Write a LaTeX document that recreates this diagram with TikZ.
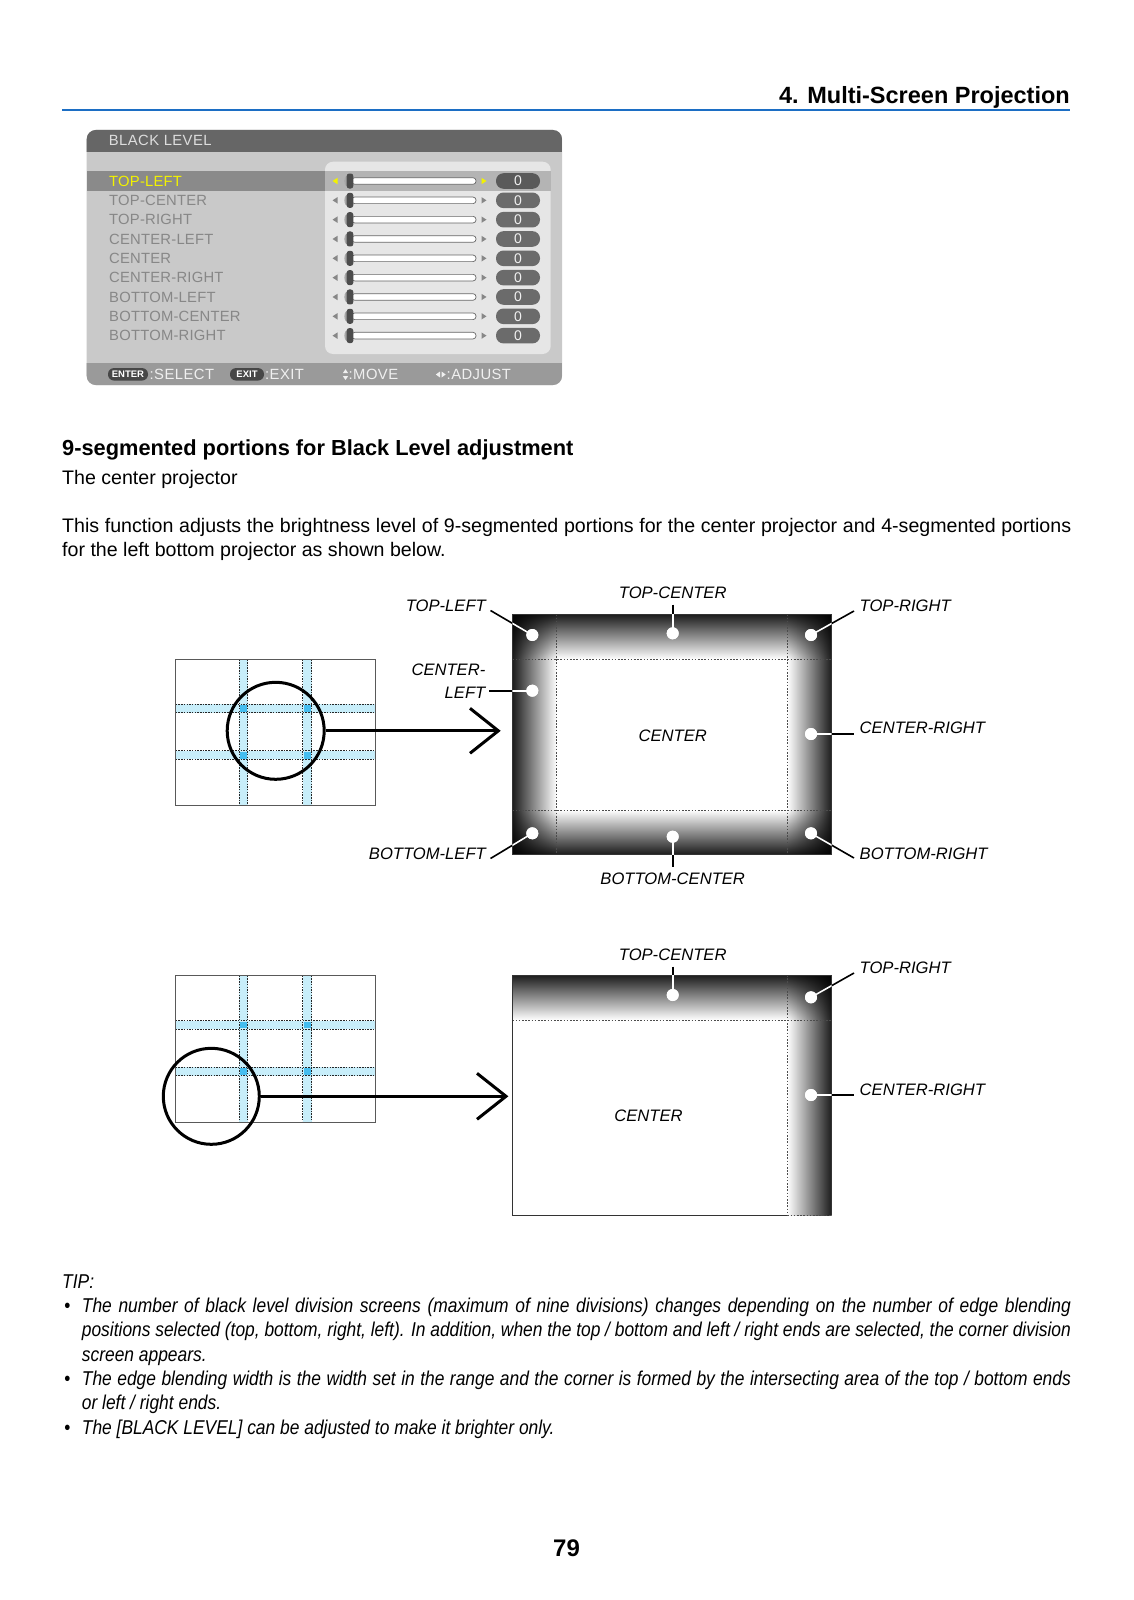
\documentclass[tikz,border=0pt]{standalone}
\usepackage{fontspec}
\usepackage{graphicx}
\setmainfont{Liberation Sans}
\usetikzlibrary{calc}

\definecolor{hdrblue}{RGB}{28,110,196}
\definecolor{osdbody}{HTML}{C9C9C9}
\definecolor{osdbar}{HTML}{666666}
\definecolor{osdfoot}{HTML}{9A9A9A}
\definecolor{osdinner}{HTML}{E6E6E6}
\definecolor{osdsel}{HTML}{8A8A8A}
\definecolor{osdselin}{HTML}{B4B4B4}
\definecolor{osdtxt}{HTML}{878787}
\definecolor{osdyel}{HTML}{F2F200}
\definecolor{osdtitletxt}{HTML}{DDDDDD}
\definecolor{osdfoottxt}{HTML}{F0F0F0}
\definecolor{pillc}{HTML}{6B6B6B}
\definecolor{pillsel}{HTML}{5A5A5A}
\definecolor{bandblue}{HTML}{C8EEFA}
\definecolor{dotblue}{HTML}{45BDEF}
\definecolor{edgedark}{HTML}{1C1C1C}

\newcommand{\myfs}[2]{\fontsize{#1}{#2}\selectfont}

\newcommand{\gridpanel}[1]{%
  \fill[white] (175.7,#1) rectangle (375,#1+146.4);
  \fill[bandblue] (239,#1) rectangle (247.7,#1+146.4);
  \fill[bandblue] (302.7,#1) rectangle (311.5,#1+146.4);
  \fill[bandblue] (175.7,#1+45) rectangle (375,#1+53.5);
  \fill[bandblue] (175.7,#1+91.5) rectangle (375,#1+100);
  \foreach \gx in {239,302.7}{\foreach \gy in {45,91.5}{%
    \fill[dotblue] (\gx+0.8,#1+\gy+0.8) rectangle (\gx+7.9,#1+\gy+7.7);}}
  \foreach \gx in {239,247.7,302.7,311.5}{\draw[griddot] (\gx,#1) -- (\gx,#1+146.4);}
  \foreach \gy in {45,53.5,91.5,100}{\draw[griddot] (175.7,#1+\gy) -- (375,#1+\gy);}
  \draw[gridline] (175.7,#1) rectangle (375,#1+146.4);
}

\tikzset{
  lbl/.style={inner sep=0, font=\myfs{16.6}{20}\itshape},
  leader/.style={line width=1.6},
  spot/.style={circle, fill=white, inner sep=0, minimum size=12},
  gridline/.style={draw=black!65, line width=0.9},
  griddot/.style={black!85, line width=0.8, dash pattern=on 1.5 off 1.2},
  scrdot/.style={black!70, line width=0.9, dash pattern=on 1.6 off 1.6},
  scrline/.style={draw=black!80, line width=1},
  bigarrow/.style={line width=3},
  osdrow/.style={inner sep=0, anchor=west, font=\myfs{14.8}{16}\addfontfeature{LetterSpace=1.5}},
  foottxt/.style={inner sep=0, anchor=west, text=osdfoottxt, font=\myfs{14.8}{16}\addfontfeature{LetterSpace=3}},
  keypill/.style={fill=black!72, text=white, font=\myfs{9.5}{10}\bfseries, rounded corners=6, minimum height=12.5, inner xsep=3, inner ysep=0},
}

\begin{document}
\begin{tikzpicture}[x=1pt,y=-1pt]
\useasboundingbox[fill=white] (0,0) rectangle (1134,1600);

% ---------- header ----------
\node[anchor=base east, inner sep=0, font=\myfs{23.5}{28}\bfseries] (hdr) at (1070,104) {4. Multi-Screen Projection};
\coordinate (ruleL) at (62,110.2);
\coordinate (ruleR) at (1070,110.2);
\draw[hdrblue, line width=2.5] (ruleL) -- (ruleR);

% ---------- OSD menu ----------
\path[fill=osdbody, rounded corners=9] (86.7,130) rectangle (562,385);
\begin{scope}
  \clip[rounded corners=9] (86.7,130) rectangle (562,385);
  \fill[osdbar] (86,129) rectangle (563,152);
  \fill[osdfoot] (86,363) rectangle (563,386);
\end{scope}
\node[inner sep=0, anchor=west, text=osdtitletxt, font=\myfs{14.8}{16}\addfontfeature{LetterSpace=3}] (osdtitle) at (108.7,140.5) {BLACK LEVEL};
\path[fill=osdinner, rounded corners=8] (325,161.7) rectangle (550.7,354);
\fill[osdsel] (86.7,171) rectangle (325,190.5);
\fill[osdselin] (325,171) rectangle (550.7,190.5);

\foreach \lab [count=\k from 0] in {TOP-LEFT,TOP-CENTER,TOP-RIGHT,CENTER-LEFT,CENTER,CENTER-RIGHT,BOTTOM-LEFT,BOTTOM-CENTER,BOTTOM-RIGHT}{
  \pgfmathsetmacro{\yy}{181+19.33*\k}
  \ifnum\k=0 \colorlet{rtx}{osdyel}\colorlet{rpl}{pillsel}\else\colorlet{rtx}{osdtxt}\colorlet{rpl}{pillc}\fi
  \node[osdrow, text=rtx] (row\k) at (109,\yy) {\lab};
  \fill[rtx] (337.5,\yy-3.2) -- (337.5,\yy+3.2) -- (332.5,\yy) -- cycle;
  \fill[black!35] (348,\yy) ellipse (3.6 and 6);
  \draw[fill=white, draw=black!60, line width=0.7, rounded corners=3] (351.7,\yy-3.3) rectangle (476,\yy+3.3);
  \fill[black!70, rounded corners=2.5] (346.7,\yy-7.5) rectangle (353.3,\yy+7.5);
  \fill[rtx] (481.5,\yy-3.2) -- (481.5,\yy+3.2) -- (486.5,\yy) -- cycle;
  \fill[rpl, rounded corners=7.5] (496,\yy-7.8) rectangle (540,\yy+7.8);
  \node[inner sep=0, text=white!94!black, font=\myfs{14}{16}] (val\k) at (518,\yy) {0};
}

% footer
\node[keypill, minimum width=40] (enterkey) at (128,374.3) {ENTER};
\node[foottxt] (selecttxt) at (149.5,374.5) {:SELECT};
\node[keypill, minimum width=34] (exitkey) at (247,374.3) {EXIT};
\node[foottxt] (exittxt) at (265,374.5) {:EXIT};
\fill[osdfoottxt] (342.8,373.2) -- (348.2,373.2) -- (345.5,369.2) -- cycle;
\fill[osdfoottxt] (342.8,376.0) -- (348.2,376.0) -- (345.5,380.0) -- cycle;
\node[foottxt] (movetxt) at (348.5,374.5) {:MOVE};
\fill[osdfoottxt] (435.8,374.5) -- (440,371.5) -- (440,377.5) -- cycle;
\fill[osdfoottxt] (441.5,371.5) -- (441.5,377.5) -- (445.7,374.5) -- cycle;
\node[foottxt] (adjtxt) at (446.5,374.5) {:ADJUST};

% ---------- text ----------
\node[anchor=base west, inner sep=0, font=\myfs{21.8}{26}\bfseries] (heading) at (62,455) {9-segmented portions for Black Level adjustment};
\node[anchor=base west, inner sep=0, font=\myfs{19.6}{23.8}] (subhead) at (62,484.5) {The center projector};
\node[anchor=base west, inner sep=0] (para) at (62,532.5) {\parbox[t]{1009pt}{\myfs{19.6}{23.8}This function adjusts the brightness level of 9-segmented portions for the center projector and 4-segmented portions\linebreak for the left bottom projector as shown below.}};

% ---------- diagram 1 ----------
\gridpanel{659.3}
\node[circle, draw, line width=3, minimum size=97, inner sep=0] (mag1) at (275.7,730.8) {};
\coordinate (tip1) at (498.3,730.8);
\coordinate (arm1a) at (470,708.3);
\coordinate (arm1b) at (470,753.3);
\draw[bigarrow] (mag1.east) -- (tip1);
\draw[bigarrow] (arm1a) -- (tip1) -- (arm1b);

\begin{scope}[blend mode=multiply]
  \shade[left color=edgedark, right color=white] (512.3,614.3) rectangle (556.7,854.3);
  \shade[left color=white, right color=edgedark] (787.3,614.3) rectangle (831.7,854.3);
  \shade[top color=edgedark, bottom color=white] (512.3,614.3) rectangle (831.7,659);
  \shade[top color=white, bottom color=edgedark] (512.3,810) rectangle (831.7,854.3);
\end{scope}
\draw[scrdot] (512.3,659) -- (831.7,659);
\draw[scrdot] (512.3,810) -- (831.7,810);
\draw[scrdot] (556.7,614.3) -- (556.7,854.3);
\draw[scrdot] (787.3,614.3) -- (787.3,854.3);
\draw[scrline] (512.3,614.3) rectangle (831.7,854.3);

\node[spot] (dTL) at (532.3,635) {};
\node[spot] (dTC) at (672.7,633.3) {};
\node[spot] (dTR) at (811,635) {};
\node[spot] (dCL) at (532.3,690.7) {};
\node[spot] (dCR) at (811,734) {};
\node[spot] (dBL) at (532.3,833.3) {};
\node[spot] (dBC) at (672.7,836.7) {};
\node[spot] (dBR) at (811,833.3) {};

\node[lbl, anchor=east] (lTL) at (486,605.5) {TOP-LEFT};
\node[lbl] (lTC) at (672.7,592.5) {TOP-CENTER};
\node[lbl, anchor=west] (lTR) at (859.5,606) {TOP-RIGHT};
\node[lbl, anchor=east] (lCLa) at (485.5,669.3) {CENTER-};
\node[lbl, anchor=east] (lCLb) at (485.5,692.5) {LEFT};
\node[lbl, anchor=west] (lCR) at (859.5,728) {CENTER-RIGHT};
\node[lbl] (lC1) at (672.7,736) {CENTER};
\node[lbl, anchor=east] (lBL) at (486,854) {BOTTOM-LEFT};
\node[lbl, anchor=west] (lBR) at (859.5,854) {BOTTOM-RIGHT};
\node[lbl] (lBC) at (672.7,879) {BOTTOM-CENTER};

\coordinate (eTL) at (490.5,610.5);
\coordinate (eTC) at (672.7,604.5);
\coordinate (eTR) at (854,611);
\coordinate (eCL) at (489,690.7);
\coordinate (eCR) at (853.5,734);
\coordinate (eBL) at (490.5,858.5);
\coordinate (eBC) at (672.7,866.5);
\coordinate (eBR) at (854,858);

\foreach \a in {TL,TC,TR,CL,CR,BL,BC,BR}{\draw[leader] (e\a) -- (d\a.center);}
\begin{scope}
  \clip (512.3,614.3) rectangle (831.7,854.3);
  \foreach \a in {TL,TC,TR,CL,CR,BL,BC,BR}{\draw[leader, white] (e\a) -- (d\a.center);}
\end{scope}
\foreach \a in {TL,TC,TR,CL,CR,BL,BC,BR}{\fill[white] (d\a.center) circle (6);}

% ---------- diagram 2 ----------
\gridpanel{975.7}
\node[circle, draw, line width=3, minimum size=96, inner sep=0] (mag2) at (211.3,1096.3) {};
\coordinate (tip2) at (506,1096.3);
\coordinate (arm2a) at (477,1073.3);
\coordinate (arm2b) at (477,1119.3);
\draw[bigarrow] (mag2.east) -- (tip2);
\draw[bigarrow] (arm2a) -- (tip2) -- (arm2b);

\begin{scope}[blend mode=multiply]
  \shade[top color=edgedark, bottom color=white] (512.3,975) rectangle (831.7,1020);
  \shade[left color=white, right color=edgedark] (787.3,975) rectangle (831.7,1215);
\end{scope}
\draw[scrdot] (512.3,1020) -- (831.7,1020);
\draw[scrdot] (787.3,975) -- (787.3,1215);
\draw[scrdot] (787.3,1215) -- (831.7,1215);
\draw[black!80, line width=1] (787.3,1215) -- (512.3,1215) -- (512.3,975) -- (831.7,975) -- (831.7,1215);

\node[spot] (fTC) at (672.7,995) {};
\node[spot] (fTR) at (811,997.3) {};
\node[spot] (fCR) at (811,1095) {};
\node[lbl] (mTC) at (672.7,954.5) {TOP-CENTER};
\node[lbl, anchor=west] (mTR) at (859.5,967.5) {TOP-RIGHT};
\node[lbl, anchor=west] (mCR) at (859.5,1090) {CENTER-RIGHT};
\node[lbl] (mC) at (648.5,1116) {CENTER};
\coordinate (gTC) at (672.7,966.5);
\coordinate (gTR) at (854,973);
\coordinate (gCR) at (853.5,1095);
\foreach \a in {TC,TR,CR}{\draw[leader] (g\a) -- (f\a.center);}
\begin{scope}
  \clip (512.3,975) rectangle (831.7,1215);
  \foreach \a in {TC,TR,CR}{\draw[leader, white] (g\a) -- (f\a.center);}
\end{scope}
\foreach \a in {TC,TR,CR}{\fill[white] (f\a.center) circle (6);}

% ---------- TIP ----------
\node[anchor=base west, inner sep=0, font=\myfs{20}{24}\itshape] (tip) at (62,1288) {\scalebox{0.87}[1]{TIP:}};
\node[anchor=base, inner sep=0, font=\myfs{20}{24}] (bul1) at (67.5,1312.5) {\scalebox{0.87}[1]{•}};
\node[anchor=base, inner sep=0, font=\myfs{20}{24}] (bul2) at (67.5,1385.4) {\scalebox{0.87}[1]{•}};
\node[anchor=base, inner sep=0, font=\myfs{20}{24}] (bul3) at (67.5,1434) {\scalebox{0.87}[1]{•}};
\node[anchor=base west, inner sep=0] (tip1) at (81.7,1312.5) {\scalebox{0.87}[1]{\parbox[t]{1136.8pt}{\myfs{20}{24.3}\itshape The number of black level division screens (maximum of nine divisions) changes depending on the number of edge blending\linebreak positions selected (top, bottom, right, left). In addition, when the top / bottom and left / right ends are selected, the corner division\linebreak screen appears.}}};
\node[anchor=base west, inner sep=0] (tip2) at (81.7,1385.4) {\scalebox{0.87}[1]{\parbox[t]{1136.8pt}{\myfs{20}{24.3}\itshape The edge blending width is the width set in the range and the corner is formed by the intersecting area of the top / bottom ends\linebreak or left / right ends.}}};
\node[anchor=base west, inner sep=0] (tip3) at (81.7,1434) {\scalebox{0.87}[1]{\parbox[t]{1136.8pt}{\myfs{20}{24.3}\itshape The [BLACK LEVEL] can be adjusted to make it brighter only.}}};

% ---------- page number ----------
\node[anchor=base, inner sep=0, font=\myfs{24}{28}\bfseries] (pageno) at (566.5,1556.5) {79};
\end{tikzpicture}
\end{document}
